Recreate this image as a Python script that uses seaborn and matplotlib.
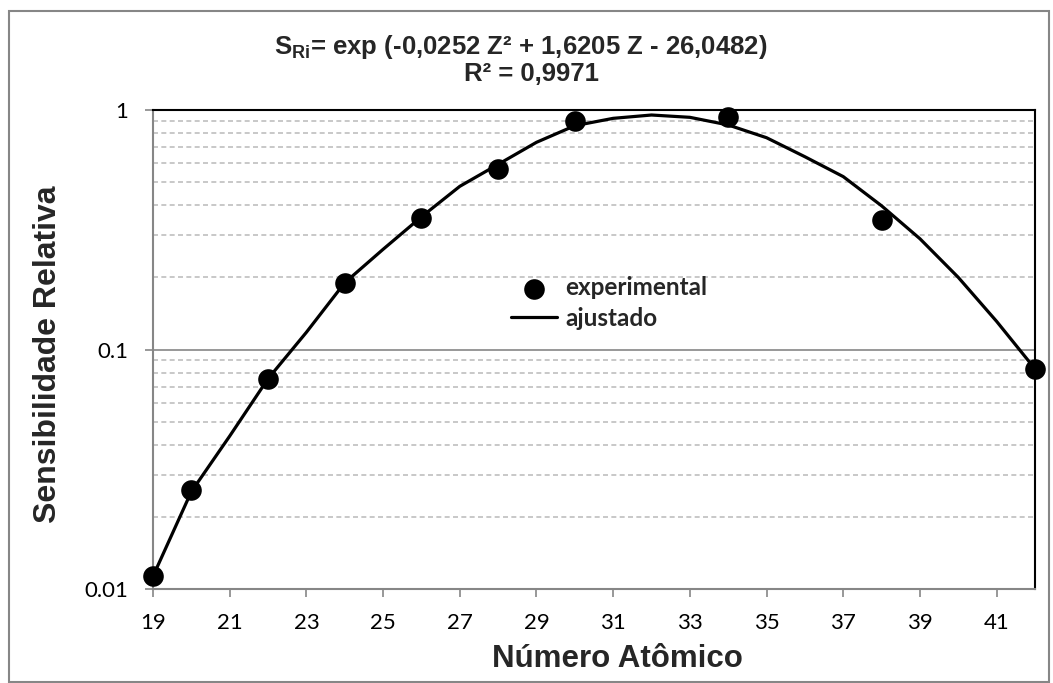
import matplotlib
matplotlib.use("Agg")
import matplotlib.pyplot as plt
from matplotlib.patches import Rectangle
from matplotlib.ticker import LogLocator, NullFormatter, FixedLocator, FixedFormatter
import seaborn as sns
import pandas as pd

# Measured relative sensitivities
z_exp = [19, 20, 22, 24, 26, 28, 30, 34, 38, 42]
s_exp = [0.0113, 0.0259, 0.0754, 0.19, 0.354, 0.567, 0.90, 0.938, 0.347, 0.083]

# Fitted curve sampled at each atomic number
z_fit = list(range(19, 43))
s_fit = [0.0113, 0.0255, 0.0435, 0.0755, 0.118, 0.19, 0.262, 0.358, 0.48, 0.593,
         0.733, 0.86, 0.923, 0.953, 0.932, 0.866, 0.766, 0.638, 0.527, 0.398,
         0.29, 0.20, 0.131, 0.083]

x_ticks = [19, 21, 23, 25, 27, 29, 31, 33, 35, 37, 39, 41]
y_ticks = [0.01, 0.1, 1]
y_tick_labels = ["0.01", "0.1", "1"]

title_line1 = r"$\mathbf{S_{Ri}}$= exp (-0,0252 Z² + 1,6205 Z - 26,0482)"
title_line2 = "R² = 0,9971"
x_label = "Número Atômico"
y_label = "Sensibilidade Relativa"
legend_labels = ["experimental", "ajustado"]

sns.set_style("white")
plt.rcParams["font.family"] = ["Liberation Sans", "DejaVu Sans"]
plt.rcParams["mathtext.fontset"] = "custom"
plt.rcParams["mathtext.bf"] = "Liberation Sans:bold"
plt.rcParams["mathtext.rm"] = "Liberation Sans:bold"
plt.rcParams["mathtext.it"] = "Liberation Sans:bold"

W, H = 1053, 683
fig = plt.figure(figsize=(W / 100, H / 100), dpi=100)
ax = fig.add_axes([153 / W, 1 - 589 / H, (1035 - 153) / W, (589 - 110) / H])

df_fit = pd.DataFrame({"Z": z_fit, "S": s_fit})
df_exp = pd.DataFrame({"Z": z_exp, "S": s_exp})

sns.lineplot(data=df_fit, x="Z", y="S", ax=ax, color="black", linewidth=2.3,
             label=legend_labels[1], zorder=3)
sns.scatterplot(data=df_exp, x="Z", y="S", ax=ax, color="black", s=220,
                edgecolor="black", linewidth=0, label=legend_labels[0],
                zorder=4, clip_on=False)

ax.set_yscale("log")
ax.set_xlim(19, 42)
ax.set_ylim(0.01, 1)

# Gridlines: solid at decades, dashed at intermediate values
ax.yaxis.set_major_locator(FixedLocator(y_ticks))
ax.yaxis.set_major_formatter(FixedFormatter(y_tick_labels))
ax.yaxis.set_minor_locator(LogLocator(base=10, subs=[2, 3, 4, 5, 6, 7, 8, 9]))
ax.yaxis.set_minor_formatter(NullFormatter())
ax.grid(False)
ax.grid(True, which="major", axis="y", color="#868686", linewidth=1.2, linestyle="-", zorder=1)
ax.grid(True, which="minor", axis="y", color="#BFBFBF", linewidth=1.2,
        linestyle=(0, (3, 2)), zorder=1)
ax.set_axisbelow(True)

ax.set_xticks(x_ticks)
ax.set_xticklabels([str(t) for t in x_ticks])

ax.tick_params(axis="x", which="major", direction="out", length=6, width=1.2,
               color="#868686", pad=11, labelsize=16, labelcolor="black",
               bottom=True)
ax.tick_params(axis="y", which="major", direction="out", length=6, width=1.2,
               color="#868686", pad=12, labelsize=16, labelcolor="black",
               left=True)
ax.tick_params(axis="y", which="minor", length=0)
for lbl in ax.get_xticklabels() + ax.get_yticklabels():
    lbl.set_fontfamily(["Lato", "DejaVu Sans"])

for side in ["left", "bottom"]:
    ax.spines[side].set_color("#868686")
    ax.spines[side].set_linewidth(1.5)
for side in ["top", "right"]:
    ax.spines[side].set_color("black")
    ax.spines[side].set_linewidth(1.5)
    ax.spines[side].set_visible(True)

ax.set_xlabel(x_label, fontsize=22.5, fontweight="bold")
ax.set_ylabel(y_label, fontsize=23, fontweight="bold")
ax.xaxis.label.set_va("center")
ax.xaxis.set_label_coords((617 - 153) / (1035 - 153), -(659 - 589) / (589 - 110))
ax.yaxis.set_label_coords(-(153 - 63) / (1035 - 153), (589 - 354) / (589 - 110))

# Legend without a frame, in the middle of the plot
handles, labels = ax.get_legend_handles_labels()
order = [labels.index(legend_labels[0]), labels.index(legend_labels[1])]
leg = ax.legend([handles[i] for i in order], [labels[i] for i in order],
                loc="center left", bbox_to_anchor=((489 - 153) / 882, (589 - 303) / 479),
                frameon=False, handlelength=1.9, handletextpad=0.35,
                labelspacing=0.3, markerscale=1.0,
                prop={"family": ["Lato", "DejaVu Sans"], "weight": "bold", "size": 17.5})

fig.text(521 / W, 1 - 47 / H, title_line1, ha="center", va="center",
         fontsize=18.5, fontweight="bold")
fig.text(531 / W, 1 - 74 / H, title_line2, ha="center", va="center",
         fontsize=18.5, fontweight="bold")

# Chart frame
fig.patches.append(Rectangle((9 / W, 1 / H), (1049 - 9) / W, (682 - 10) / H - 1 / H,
                             transform=fig.transFigure, fill=False,
                             edgecolor="#868686", linewidth=1.5))

fig.savefig("out.png", dpi=100)
